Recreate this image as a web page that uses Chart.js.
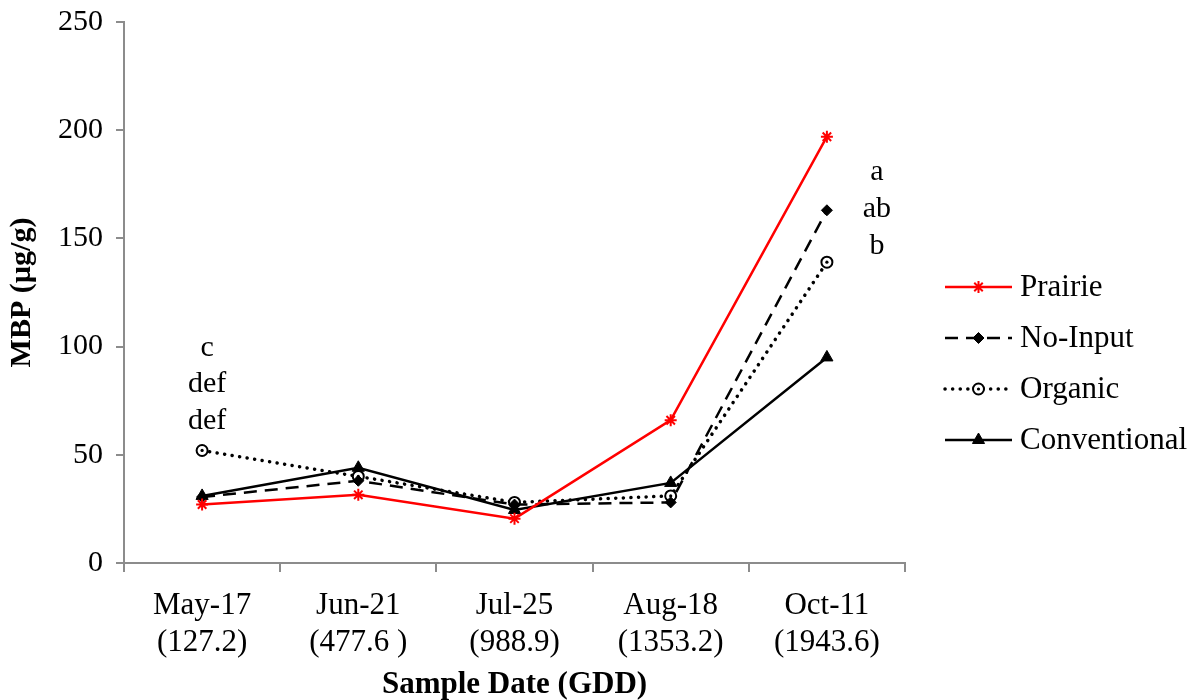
<!DOCTYPE html>
<html><head><meta charset="utf-8">
<script src="https://cdn.jsdelivr.net/npm/chart.js@4.4.1/dist/chart.umd.min.js"></script>
<style>html,body{margin:0;padding:0;background:#fff}#wrap{width:1198px;height:700px}</style>
</head><body><div id="wrap"><canvas id="c" width="1198" height="700"></canvas></div>
<script>
const categories = [["May-17","(127.2)"],["Jun-21","(477.6 )"],["Jul-25","(988.9)"],["Aug-18","(1353.2)"],["Oct-11","(1943.6)"]];
const prairie = [27, 31.5, 20.5, 66, 197];
const noInput = [30.5, 38, 27, 28, 163];
const organic = [52, 40, 28, 31, 139];
const conventional = [31, 44, 24.5, 37, 95];
const letterGroups = [
  {index:0, letters:["c","def","def"]},
  {index:4, letters:["a","ab","b"]}
];
const FONT = "'Liberation Serif','Times New Roman',serif";

const annotPlugin = {
  id:'annot',
  afterDatasetsDraw(chart){
    const ctx = chart.ctx, x = chart.scales.x, y = chart.scales.y;
    ctx.save();
    ctx.font = "30px " + FONT;
    ctx.fillStyle = "#000";
    ctx.textAlign = "center";
    ctx.textBaseline = "middle";
    const g0 = letterGroups[0];
    let px = x.getPixelForValue(g0.index) + 5;
    g0.letters.forEach((t,i)=>ctx.fillText(t, px, y.getPixelForValue(99.5) + i*36.5));
    const g1 = letterGroups[1];
    px = x.getPixelForValue(g1.index) + 50;
    g1.letters.forEach((t,i)=>ctx.fillText(t, px, y.getPixelForValue(180.5) + i*37));
    // legend
    const lx = 945, ly = 287, gap = 51, len = 67;
    chart.data.datasets.forEach((ds,i)=>{
      const yy = ly + i*gap;
      ctx.save();
      ctx.strokeStyle = ds.borderColor; ctx.lineWidth = ds.borderWidth;
      ctx.setLineDash(ds.borderDash || []);
      ctx.lineCap = ds.borderCapStyle || 'butt';
      ctx.beginPath(); ctx.moveTo(lx, yy); ctx.lineTo(lx+len, yy); ctx.stroke();
      ctx.restore();
      ctx.save();
      ctx.fillStyle = ds.pointBackgroundColor; ctx.strokeStyle = ds.pointBorderColor; ctx.lineWidth = ds.pointBorderWidth;
      ctx.beginPath();
      Chart.helpers.drawPoint(ctx, {pointStyle: ds.pointStyle, radius: ds.pointRadius, borderWidth: ds.pointBorderWidth, rotation:0}, lx+len/2, yy);
      ctx.restore();
      ctx.fillStyle = "#000"; ctx.textAlign = "left"; ctx.textBaseline = "middle";
      ctx.font = "31px " + FONT;
      ctx.fillText(ds.label, lx+len+8, yy+1);
    });
    const meta = chart.getDatasetMeta(2);
    ctx.fillStyle = "#000";
    meta.data.forEach(p=>{ctx.beginPath(); ctx.arc(p.x,p.y,1.6,0,Math.PI*2); ctx.fill();});
    ctx.beginPath(); ctx.arc(lx+len/2, ly+2*gap, 1.6, 0, Math.PI*2); ctx.fill();
    ctx.restore();
  }
};

new Chart(document.getElementById('c'), {
  type:'line',
  data:{
    labels: categories,
    datasets:[
      {label:'Prairie', data:prairie, borderColor:'#ff0000', borderWidth:2.5, pointStyle:'star', pointRadius:6, pointBorderColor:'#ff0000', pointBackgroundColor:'#ff0000', pointBorderWidth:2, tension:0},
      {label:'No-Input', data:noInput, borderColor:'#000', borderWidth:2.5, borderDash:[13,8], pointStyle:'rectRot', pointRadius:5.5, pointBorderColor:'#000', pointBackgroundColor:'#000', pointBorderWidth:1, tension:0},
      {label:'Organic', data:organic, borderColor:'#000', borderWidth:3.5, borderDash:[0.1,7.5], borderCapStyle:'round', pointStyle:'circle', pointRadius:5.5, pointBorderColor:'#000', pointBackgroundColor:'#fff', pointBorderWidth:2, tension:0},
      {label:'Conventional', data:conventional, borderColor:'#000', borderWidth:2.5, pointStyle:'triangle', pointRadius:7, pointBorderColor:'#000', pointBackgroundColor:'#000', pointBorderWidth:1, tension:0}
    ]
  },
  options:{
    responsive:false, animation:false,
    layout:{padding:{top:22,right:293,left:0,bottom:0}},
    plugins:{legend:{display:false}, tooltip:{enabled:false}},
    scales:{
      x:{
        offset:true,
        grid:{display:true, drawOnChartArea:false, drawTicks:true, tickLength:9, offset:true, color:'#8c8c8c', lineWidth:2},
        border:{color:'#8c8c8c', width:2},
        ticks:{color:'#000', font:{family:FONT, size:31}, padding:15, maxRotation:0, autoSkip:false},
        title:{display:true, text:'Sample Date (GDD)', color:'#000', font:{family:FONT, size:31, weight:'bold'}, padding:{top:2, bottom:-4}},
        afterFit(s){ s.height = 137; }
      },
      y:{
        min:0, max:250,
        grid:{display:true, drawOnChartArea:false, drawTicks:true, tickLength:8, color:'#8c8c8c', lineWidth:2},
        border:{color:'#8c8c8c', width:2},
        ticks:{stepSize:50, color:'#000', font:{family:FONT, size:30}, padding:13},
        title:{display:true, text:'MBP (µg/g)', color:'#000', font:{family:FONT, size:30, weight:'bold'}, padding:{bottom:10}},
        afterFit(s){ s.width = 124; s.paddingTop = 0; s.paddingBottom = 0; }
      }
    }
  },
  plugins:[annotPlugin]
});
</script>
</body></html>
